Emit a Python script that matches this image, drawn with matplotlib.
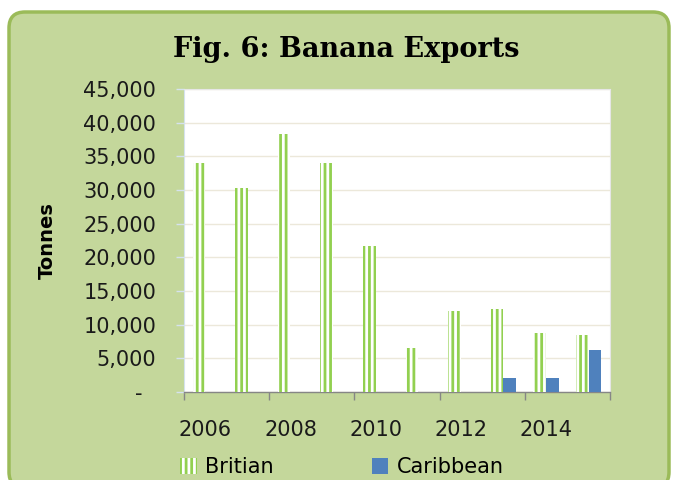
import matplotlib.pyplot as plt
from matplotlib.patches import FancyBboxPatch
from matplotlib.ticker import FuncFormatter
import numpy as np

# data
years = ['2006', '2007', '2008', '2009', '2010', '2011', '2012', '2013', '2014', '2015']
britian = [34000, 30300, 38300, 34000, 21700, 6500, 12000, 12400, 8800, 8400]
caribbean = [0, 0, 0, 0, 0, 0, 0, 2150, 2150, 6300]

green = '#92d050'
blue = '#4f81bd'
panel = '#c4d79b'

plt.rcParams['font.family'] = 'DejaVu Sans'
plt.rcParams['hatch.linewidth'] = 2.0

fig = plt.figure(figsize=(6.73, 4.8), dpi=100, facecolor='white')

# rounded green panel behind everything (pixel coords)
frame = FancyBboxPatch((9, -8), 660, 476, boxstyle='round,pad=0,rounding_size=16',
                       transform=None, facecolor=panel, edgecolor='#9bbb59',
                       linewidth=2.5, zorder=-10)
fig.patches.append(frame)

ax = fig.add_axes([184 / 673, 88 / 480, 426 / 673, 303 / 480])
ax.set_zorder(1)
ax.set_facecolor('white')

x = np.arange(len(years))
w = 0.3
ax.bar(x - w / 2, britian, w, facecolor='white', edgecolor=green, hatch='|||',
       linewidth=0, label='Britian', zorder=3)
ax.bar(x + w / 2, caribbean, w, color=blue, linewidth=0, label='Caribbean', zorder=3)

ax.set_xlim(-0.5, len(years) - 0.5)
ax.set_ylim(0, 45000)
ax.set_yticks(np.arange(0, 45001, 5000))
ax.yaxis.set_major_formatter(FuncFormatter(lambda v, p: '-  ' if v == 0 else f'{int(v):,}'))
ax.grid(axis='y', color='#ece8da', linewidth=1, zorder=0)

# ticks on category boundaries, labels every other year
ax.set_xticks(np.arange(-0.5, len(years), 2))
ax.set_xticklabels([])
ax.set_xticks(x[::2], minor=True)
ax.set_xticklabels(years[::2], minor=True)
ax.tick_params(axis='x', which='major', length=6, color='#868686', width=1)
ax.tick_params(axis='x', which='minor', length=0, pad=20, labelsize=15, labelcolor='#1a1a1a')
ax.tick_params(axis='y', length=6, color='#d5e2ee', width=1, pad=14, labelsize=15,
               labelcolor='#1a1a1a')

for s in ['top', 'right']:
    ax.spines[s].set_color('#e6e6e6')
    ax.spines[s].set_linewidth(0.8)
ax.spines['left'].set_color('#d5e2ee')
ax.spines['bottom'].set_color('#868686')
ax.spines['bottom'].set_linewidth(1.0)

ax.set_ylabel('Tonnes', fontsize=14, fontweight='bold')
ax.yaxis.set_label_coords(-0.298, 0.5)

fig.text(0.515, 0.897, 'Fig. 6: Banana Exports', ha='center', va='center',
         fontsize=19.5, fontweight='bold', family='DejaVu Serif')

leg = fig.legend(loc='center left', bbox_to_anchor=(180 / 673, 1 - 467 / 480), ncol=2,
                 frameon=False, fontsize=15, handlelength=0.8, handleheight=0.8,
                 handletextpad=0.4, columnspacing=4.7, borderpad=0, borderaxespad=0)

fig.savefig('out.png', dpi=100, facecolor='white')
